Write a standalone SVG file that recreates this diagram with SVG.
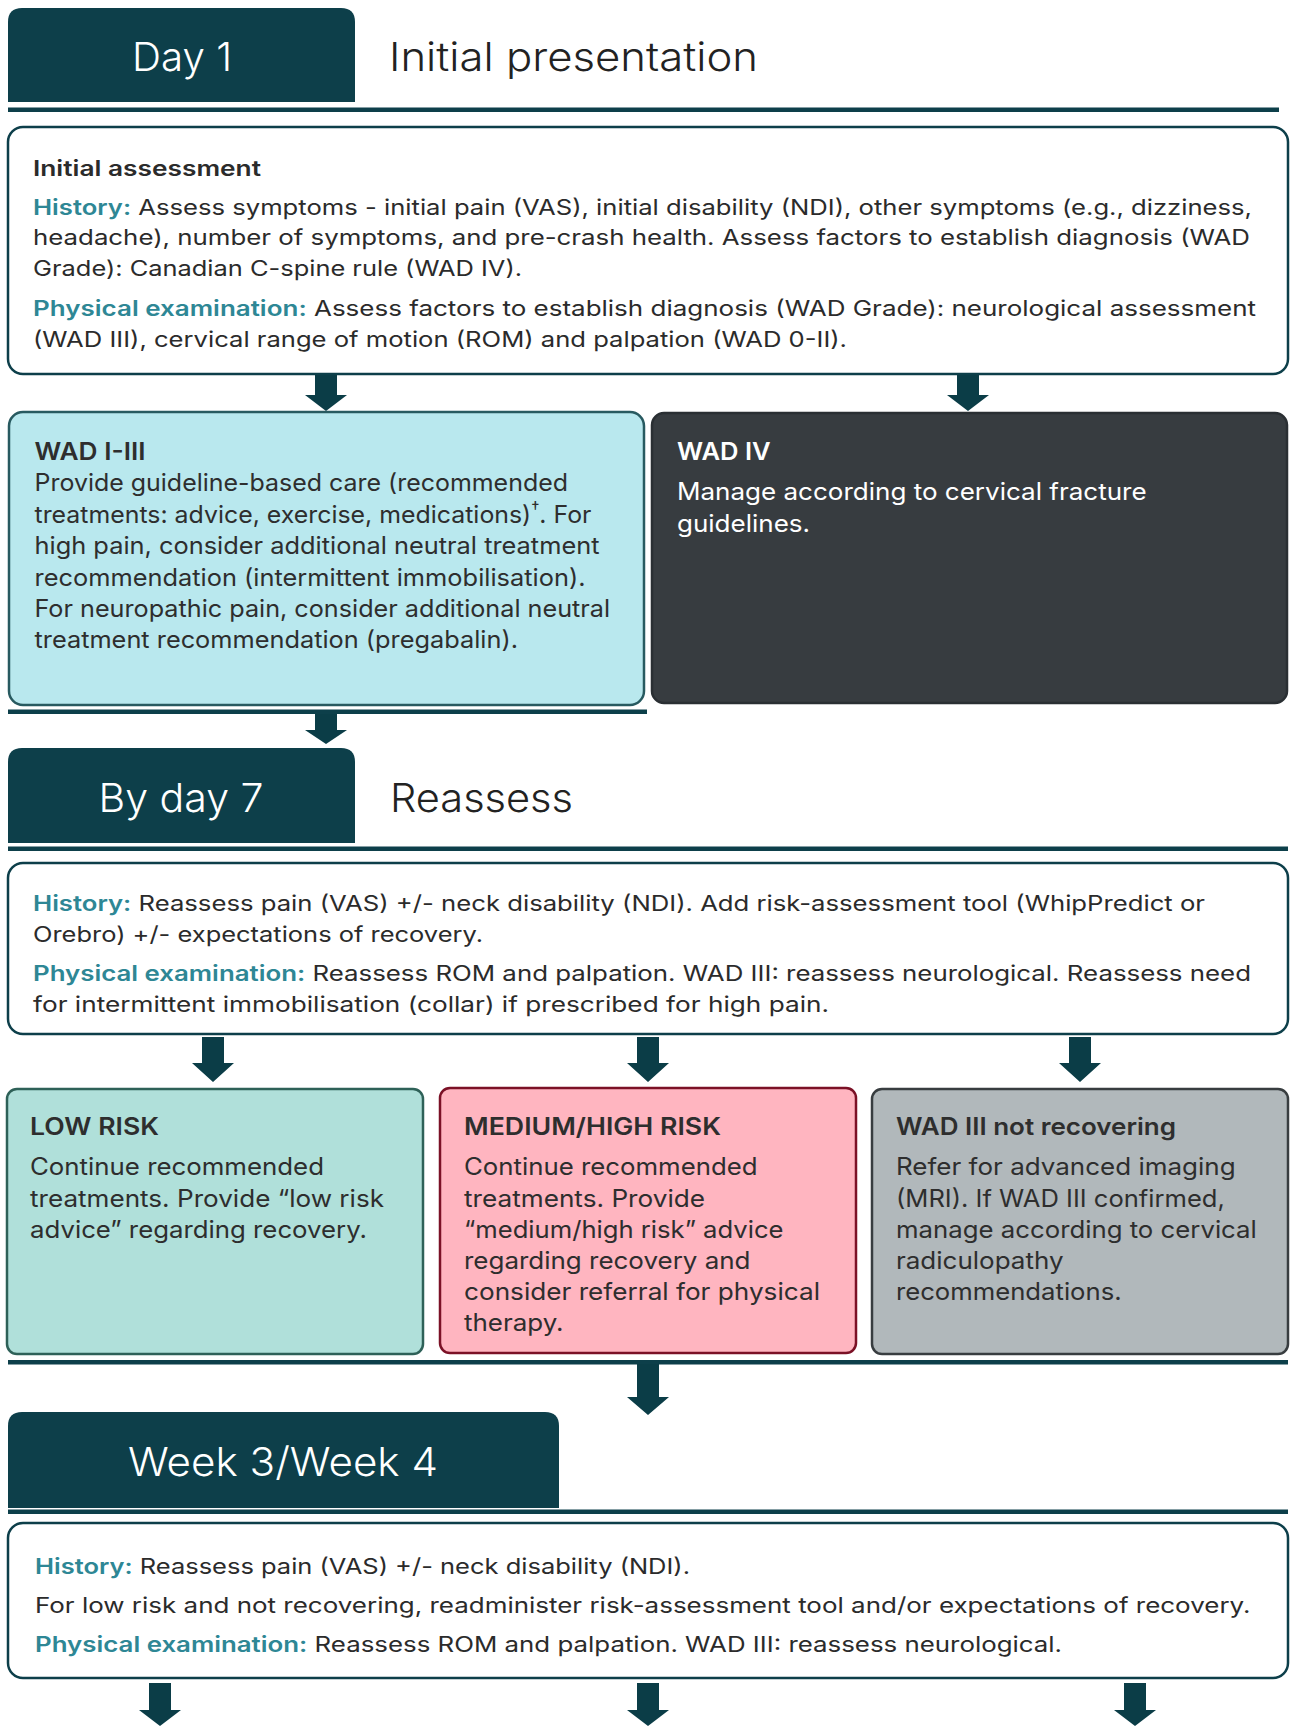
<svg xmlns="http://www.w3.org/2000/svg" width="1290" height="1726" viewBox="0 0 1290 1726">
<style>
text{font-family:Inter,"Liberation Sans",sans-serif}
.tab{fill:#0d3f4a}
.tabt{font-size:40px;font-weight:300;fill:#ffffff;text-anchor:middle}
.head{font-size:40px;font-weight:300;fill:#222222}
.rule{fill:#0d3f4a}
.box{fill:#ffffff;stroke:#0d3f4a;stroke-width:2.5}
.s{font-size:21.5px;fill:#2b2b2b}
.lab{fill:#2e8795;font-weight:600}
.b{font-size:24px;fill:#2e2e2e}
.w{fill:#ffffff}
.bh{font-weight:600}
.arr{fill:#0b3d47}
</style>
<rect width="1290" height="1726" fill="#ffffff"/>

<g id="header-day1">
<path class="tab" d="M8 102 V22 Q8 8 22 8 H341 Q355 8 355 22 V102 Z"/>
<text class="tabt" x="182" y="71" textLength="100" lengthAdjust="spacingAndGlyphs">Day 1</text>
<text class="head" x="389" y="71" textLength="369" lengthAdjust="spacingAndGlyphs">Initial presentation</text>
</g>

<g id="initial-assessment">
<rect class="box" x="8" y="127" width="1280" height="247" rx="15"/>
<text class="s bh" x="33" y="176" textLength="228" lengthAdjust="spacingAndGlyphs">Initial assessment</text>
<text class="s" x="33" y="215" textLength="1219" lengthAdjust="spacingAndGlyphs"><tspan class="lab">History:</tspan> Assess symptoms - initial pain (VAS), initial disability (NDI), other symptoms (e.g., dizziness,</text>
<text class="s" x="33" y="245" textLength="1217" lengthAdjust="spacingAndGlyphs">headache), number of symptoms, and pre-crash health. Assess factors to establish diagnosis (WAD</text>
<text class="s" x="33" y="276" textLength="489" lengthAdjust="spacingAndGlyphs">Grade): Canadian C-spine rule (WAD IV).</text>
<text class="s" x="33" y="316" textLength="1223" lengthAdjust="spacingAndGlyphs"><tspan class="lab">Physical examination:</tspan> Assess factors to establish diagnosis (WAD Grade): neurological assessment</text>
<text class="s" x="33" y="347" textLength="814" lengthAdjust="spacingAndGlyphs">(WAD III), cervical range of motion (ROM) and palpation (WAD 0-II).</text>
</g>

<g id="wad-i-iii">
<rect x="9" y="412" width="635" height="293" rx="14" fill="#b9e8ee" stroke="#285a60" stroke-width="2.5"/>
<text class="b bh" x="34.5" y="460" textLength="111" lengthAdjust="spacingAndGlyphs">WAD I-III</text>
<text class="b" x="34.5" y="491" textLength="533.5" lengthAdjust="spacingAndGlyphs">Provide guideline-based care (recommended</text>
<text class="b" x="34.5" y="522.5" textLength="557" lengthAdjust="spacingAndGlyphs">treatments: advice, exercise, medications)<tspan font-size="16" dy="-10">†</tspan><tspan dy="10">. For</tspan></text>
<text class="b" x="34.5" y="554" textLength="565" lengthAdjust="spacingAndGlyphs">high pain, consider additional neutral treatment</text>
<text class="b" x="34.5" y="586" textLength="551" lengthAdjust="spacingAndGlyphs">recommendation (intermittent immobilisation).</text>
<text class="b" x="34.5" y="617" textLength="575.5" lengthAdjust="spacingAndGlyphs">For neuropathic pain, consider additional neutral</text>
<text class="b" x="34.5" y="648" textLength="483.5" lengthAdjust="spacingAndGlyphs">treatment recommendation (pregabalin).</text>
</g>

<g id="wad-iv">
<rect x="652" y="413" width="635" height="290" rx="12" fill="#373c40" stroke="#2a2f33" stroke-width="2.5"/>
<text class="b bh w" x="677" y="460" textLength="93.6" lengthAdjust="spacingAndGlyphs">WAD IV</text>
<text class="b w" x="677" y="500" textLength="469.6" lengthAdjust="spacingAndGlyphs">Manage according to cervical fracture</text>
<text class="b w" x="677" y="532" textLength="133" lengthAdjust="spacingAndGlyphs">guidelines.</text>
</g>

<g id="header-day7">
<path class="tab" d="M8 843 V762 Q8 748 22 748 H341 Q355 748 355 762 V843 Z"/>
<text class="tabt" x="181" y="812" textLength="165" lengthAdjust="spacingAndGlyphs">By day 7</text>
<text class="head" x="390" y="812" textLength="183" lengthAdjust="spacingAndGlyphs">Reassess</text>
</g>

<g id="reassess-day7">
<rect class="box" x="8" y="863" width="1280" height="171" rx="15"/>
<text class="s" x="33" y="911" textLength="1172" lengthAdjust="spacingAndGlyphs"><tspan class="lab">History:</tspan> Reassess pain (VAS) +/- neck disability (NDI). Add risk-assessment tool (WhipPredict or</text>
<text class="s" x="33" y="942" textLength="450" lengthAdjust="spacingAndGlyphs">Orebro) +/- expectations of recovery.</text>
<text class="s" x="33" y="981" textLength="1218" lengthAdjust="spacingAndGlyphs"><tspan class="lab">Physical examination:</tspan> Reassess ROM and palpation. WAD III: reassess neurological. Reassess need</text>
<text class="s" x="33" y="1012" textLength="796" lengthAdjust="spacingAndGlyphs">for intermittent immobilisation (collar) if prescribed for high pain.</text>
</g>

<g id="low-risk">
<rect x="7" y="1089" width="416" height="265" rx="10" fill="#b0e0da" stroke="#2e6158" stroke-width="2.5"/>
<text class="b bh" x="30" y="1135" textLength="129" lengthAdjust="spacingAndGlyphs">LOW RISK</text>
<text class="b" x="30" y="1175" textLength="294" lengthAdjust="spacingAndGlyphs">Continue recommended</text>
<text class="b" x="30" y="1206.5" textLength="354" lengthAdjust="spacingAndGlyphs">treatments. Provide “low risk</text>
<text class="b" x="30" y="1238" textLength="337" lengthAdjust="spacingAndGlyphs">advice” regarding recovery.</text>
</g>

<g id="medium-high-risk">
<rect x="440" y="1088" width="416" height="265" rx="10" fill="#ffb5c0" stroke="#7b1126" stroke-width="2.5"/>
<text class="b bh" x="464" y="1135" textLength="257" lengthAdjust="spacingAndGlyphs">MEDIUM/HIGH RISK</text>
<text class="b" x="464" y="1175" textLength="293.5" lengthAdjust="spacingAndGlyphs">Continue recommended</text>
<text class="b" x="464" y="1206.5" textLength="241" lengthAdjust="spacingAndGlyphs">treatments. Provide</text>
<text class="b" x="464" y="1238" textLength="319.5" lengthAdjust="spacingAndGlyphs">“medium/high risk” advice</text>
<text class="b" x="464" y="1269" textLength="286.5" lengthAdjust="spacingAndGlyphs">regarding recovery and</text>
<text class="b" x="464" y="1300" textLength="356" lengthAdjust="spacingAndGlyphs">consider referral for physical</text>
<text class="b" x="464" y="1331" textLength="99.6" lengthAdjust="spacingAndGlyphs">therapy.</text>
</g>

<g id="wad-iii-not-recovering">
<rect x="872" y="1089" width="416" height="265" rx="10" fill="#b1b8bb" stroke="#383d40" stroke-width="2.5"/>
<text class="b bh" x="896" y="1135" textLength="280" lengthAdjust="spacingAndGlyphs">WAD III not recovering</text>
<text class="b" x="896" y="1175" textLength="339.6" lengthAdjust="spacingAndGlyphs">Refer for advanced imaging</text>
<text class="b" x="896" y="1206.5" textLength="328.8" lengthAdjust="spacingAndGlyphs">(MRI). If WAD III confirmed,</text>
<text class="b" x="896" y="1238" textLength="360.8" lengthAdjust="spacingAndGlyphs">manage according to cervical</text>
<text class="b" x="896" y="1269" textLength="167.5" lengthAdjust="spacingAndGlyphs">radiculopathy</text>
<text class="b" x="896" y="1300" textLength="225.6" lengthAdjust="spacingAndGlyphs">recommendations.</text>
</g>

<g id="header-week3-4">
<path class="tab" d="M8 1508 V1426 Q8 1412 22 1412 H545 Q559 1412 559 1426 V1508 Z"/>
<text class="tabt" x="283" y="1476" textLength="310" lengthAdjust="spacingAndGlyphs">Week 3/Week 4</text>
</g>

<g id="reassess-week3-4">
<rect class="box" x="8" y="1523" width="1280" height="155" rx="15"/>
<text class="s" x="35" y="1574" textLength="655" lengthAdjust="spacingAndGlyphs"><tspan class="lab">History:</tspan> Reassess pain (VAS) +/- neck disability (NDI).</text>
<text class="s" x="35" y="1613" textLength="1215.5" lengthAdjust="spacingAndGlyphs">For low risk and not recovering, readminister risk-assessment tool and/or expectations of recovery.</text>
<text class="s" x="35" y="1652" textLength="1027" lengthAdjust="spacingAndGlyphs"><tspan class="lab">Physical examination:</tspan> Reassess ROM and palpation. WAD III: reassess neurological.</text>
</g>

<g id="connectors">
<rect class="rule" x="8" y="107.5" width="1271" height="4.5"/>
<rect class="rule" x="8" y="709.5" width="639" height="4.5"/>
<rect class="rule" x="8" y="846.5" width="1280" height="4.5"/>
<rect class="rule" x="8" y="1360" width="1280" height="4.5"/>
<rect class="rule" x="8" y="1509.5" width="1280" height="4.5"/>
<path class="arr" d="M315 375 H337 V395 H347 L326 411 L305 395 H315 Z"/>
<path class="arr" d="M957 375 H979 V395 H989 L968 411 L947 395 H957 Z"/>
<path class="arr" d="M315 714 H337 V730 H347 L326 744 L305 730 H315 Z"/>
<path class="arr" d="M202 1037 H224 V1063 H234 L213 1082 L192 1063 H202 Z"/>
<path class="arr" d="M637 1037 H659 V1063 H669 L648 1082 L627 1063 H637 Z"/>
<path class="arr" d="M1069 1037 H1091 V1063 H1101 L1080 1082 L1059 1063 H1069 Z"/>
<path class="arr" d="M637 1364 H659 V1397 H669 L648 1415 L627 1397 H637 Z"/>
<path class="arr" d="M149 1683 H171 V1710 H181 L160 1726 L139 1710 H149 Z"/>
<path class="arr" d="M637 1683 H659 V1710 H669 L648 1726 L627 1710 H637 Z"/>
<path class="arr" d="M1124 1683 H1146 V1710 H1156 L1135 1726 L1114 1710 H1124 Z"/>
</g>
</svg>
